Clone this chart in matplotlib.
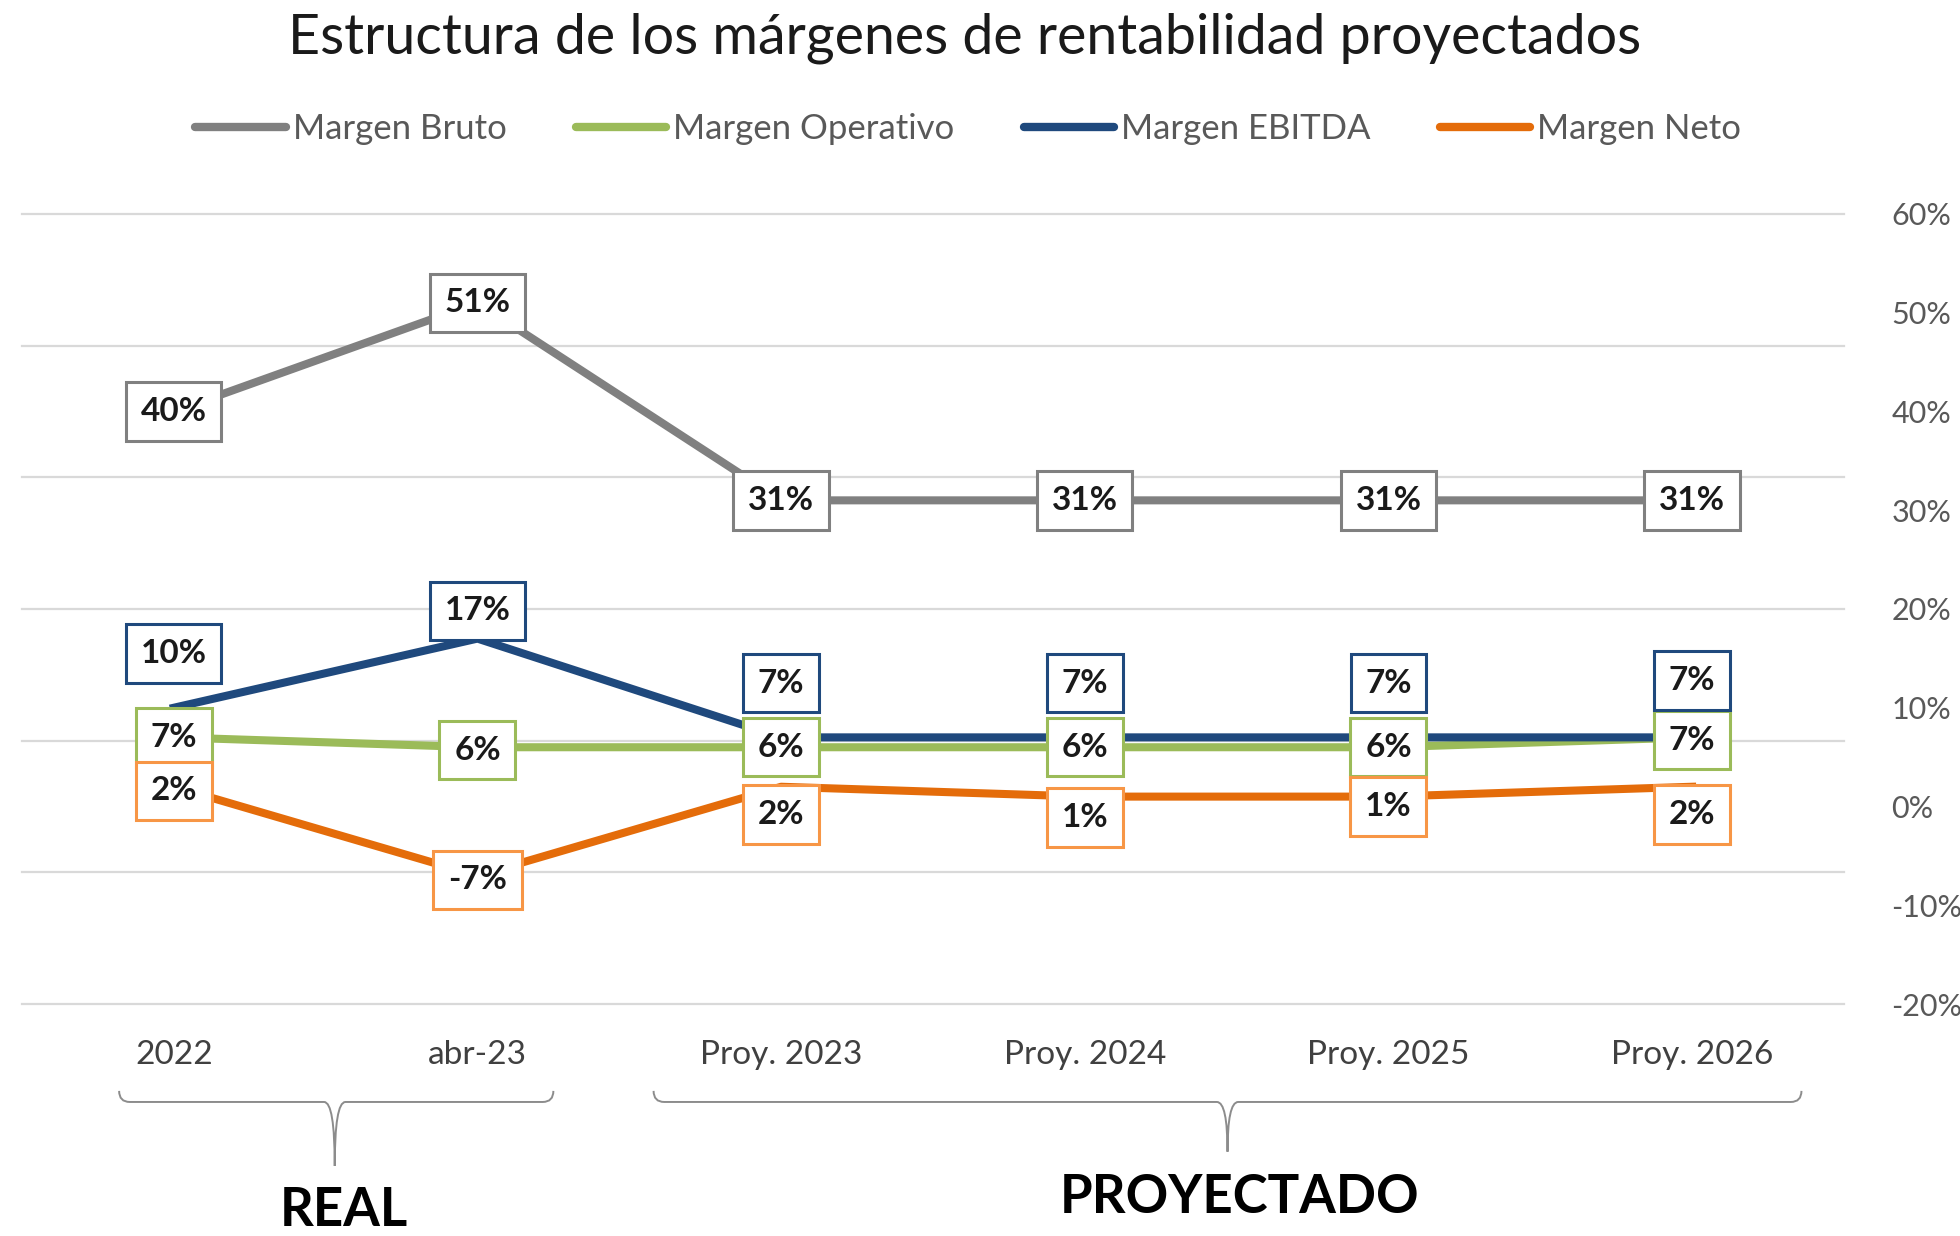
import numpy as np
import matplotlib.pyplot as plt
from matplotlib.path import Path
from matplotlib.patches import PathPatch
from matplotlib.lines import Line2D

categories = ['2022', 'abr-23', 'Proy. 2023', 'Proy. 2024', 'Proy. 2025', 'Proy. 2026']
margen_bruto = [40, 51, 31, 31, 31, 31]
margen_operativo = [7, 6, 6, 6, 6, 7]
margen_ebitda = [10, 17, 7, 7, 7, 7]
margen_neto = [2, -7, 2, 1, 1, 2]
y_ticks = [60, 50, 40, 30, 20, 10, 0, -10, -20]
group_names = ['REAL', 'PROYECTADO']

# label offsets (points) and bracket geometry - styling only
bruto_dy = [0, 0, 0, 0, 0, 0]
operativo_dy = [0, -2, 0, 0, 0, -2]
ebitda_dy = [39, 20, 39, 39, 39, 41]
neto_dy = [-3, -3, -20, -15, -7, -20]
brace_spans = [(0.32, 1.75, 1.03, -0.205), (2.08, 5.86, 3.97, -0.187)]
group_text_pos = [(1.06, -0.262), (4.01, -0.245)]

plt.rcParams['font.family'] = ['Lato', 'DejaVu Sans']

fig = plt.figure(figsize=(19.6, 12.36), dpi=100)
ax = fig.add_axes([0.0112, 0.1877, 0.9296, 0.6392])

x = np.arange(len(categories)) + 0.5
series = [
    ('Margen Bruto', margen_bruto, '#808080', '#808080', bruto_dy),
    ('Margen Operativo', margen_operativo, '#9BBB59', '#9BBB59', operativo_dy),
    ('Margen EBITDA', margen_ebitda, '#1F497D', '#1F497D', ebitda_dy),
    ('Margen Neto', margen_neto, '#E46C0A', '#F79646', neto_dy),
]

# gridlines (7 evenly spaced, independent of the labelled ticks)
for g in np.linspace(-20, 60, 7):
    ax.axhline(g, color='#d9d9d9', lw=1.6, zorder=1, clip_on=False)

handles = []
for i, (name, vals, col, edge, dys) in enumerate(series):
    ax.plot(x, vals, color=col, lw=5.8, solid_joinstyle='round', zorder=3 + i)
    handles.append(Line2D([], [], color=col, lw=6, solid_capstyle='round', label=name))
    for xi, v, dy in zip(x, vals, dys):
        ax.annotate(f'{v}%', (xi, v), xytext=(0, dy), textcoords='offset points',
                    ha='center', va='center', fontsize=24, fontweight='bold', color='#1a1a1a',
                    bbox=dict(boxstyle='square,pad=0.44', fc='white', ec=edge, lw=2.2),
                    zorder=10)

ax.set_xlim(0, len(categories))
ax.set_ylim(-20, 60)
ax.set_xticks(x)
ax.set_xticklabels(categories, fontsize=24, color='#404040')
ax.yaxis.tick_right()
ax.set_yticks(y_ticks)
ax.set_yticklabels([f'{t}%' for t in y_ticks], fontsize=22, color='#595959', ha='left')
ax.tick_params(axis='both', which='both', length=0)
ax.tick_params(axis='x', pad=26)
ax.tick_params(axis='y', pad=34)
ax.grid(False)
for s in ax.spines.values():
    s.set_visible(False)

# curly brackets under the axis
tr = ax.get_xaxis_transform()
y_top, y_mid = -0.110, -0.124
w = 0.035
for (x0, x1, xt, y_tip), name, (tx, ty) in zip(brace_spans, group_names, group_text_pos):
    verts = [(x0, y_top), (x0, y_mid), (x0 + w, y_mid), (xt - w, y_mid),
             (xt, y_mid), (xt, y_tip), (xt, y_mid), (xt + w, y_mid),
             (x1 - w, y_mid), (x1, y_mid), (x1, y_top)]
    codes = [Path.MOVETO, Path.CURVE3, Path.CURVE3, Path.LINETO,
             Path.CURVE3, Path.CURVE3, Path.CURVE3, Path.CURVE3,
             Path.LINETO, Path.CURVE3, Path.CURVE3]
    ax.add_patch(PathPatch(Path(verts, codes), fc='none', ec='#8c8c8c', lw=1.4,
                           transform=tr, clip_on=False))
    ax.text(tx, ty, name, transform=tr, ha='center', va='center',
            fontsize=38, fontweight='bold', color='black')

fig.text(0.492, 0.969, 'Estructura de los márgenes de rentabilidad proyectados',
         ha='center', va='center', fontsize=40, color='#1a1a1a')
fig.legend(handles=handles, loc='center', bbox_to_anchor=(0.494, 0.8956), ncol=4,
           frameon=False, fontsize=25, handlelength=2.6, handletextpad=0.2,
           columnspacing=2.0, labelcolor='#595959')

fig.savefig('out.png', dpi=100)
